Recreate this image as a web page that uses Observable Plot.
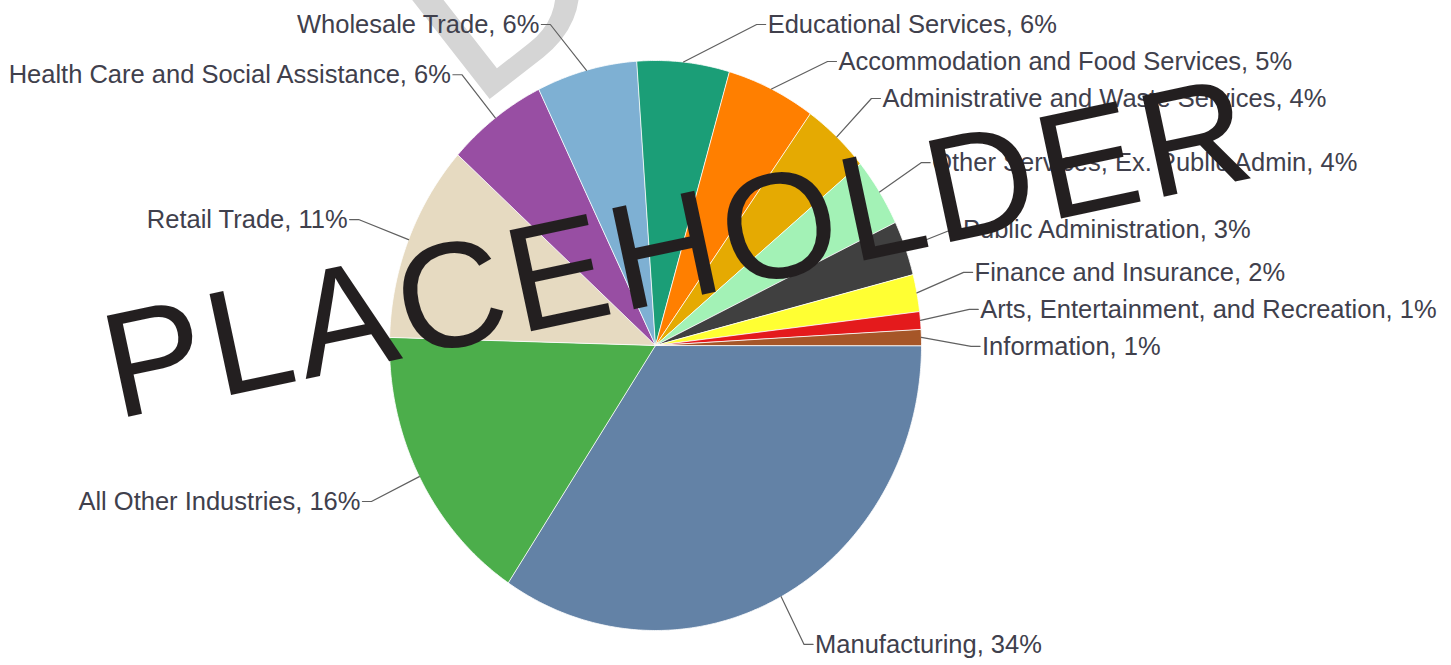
<!DOCTYPE html>
<html>
<head>
<meta charset="utf-8">
<script src="https://cdn.jsdelivr.net/npm/d3@7"></script>
<script src="https://cdn.jsdelivr.net/npm/@observablehq/plot@0.6"></script>
<style>
  html, body { margin: 0; padding: 0; background: #ffffff; }
  #chart svg { display: block; }
</style>
</head>
<body>
<div id="chart"></div>
<script>
// ---- data ----
const industries = [
  "Manufacturing",
  "All Other Industries",
  "Retail Trade",
  "Health Care and Social Assistance",
  "Wholesale Trade",
  "Educational Services",
  "Accommodation and Food Services",
  "Administrative and Waste Services",
  "Other Services, Ex. Public Admin",
  "Public Administration",
  "Finance and Insurance",
  "Arts, Entertainment, and Recreation",
  "Information"
];
const shares = [34.3, 16.1, 11.2, 6.1, 6.1, 5.6, 5.4, 4.1, 3.9, 3.1, 2.1, 1.0, 0.9];
const sliceColors = [
  "#6382a6", "#4cae4b", "#e6dac1", "#984ea3", "#7eb0d3", "#1b9e77",
  "#ff7f00", "#e5aa02", "#a3f2b6", "#404040", "#ffff33", "#e41a1c", "#a65628"
];
const watermarkText = "PLACEHOLDER";
const faintMark = "D";

// ---- layout ----
const W = 1451, H = 665;
const CX = 655, CY = 345;      // pie centre (px)
const RX = 266, RY = 285;      // pie radii (px) – picture is slightly stretched vertically
const LABEL_R = 1.19;          // label radius in pie-radius units
const PAD = 10;                // px between label circle and text
const LINE_H = 37;             // px between stacked labels
const TOP = 24, BOTTOM = 650;  // label centre limits

const total = d3.sum(shares);
const slices = [];
let acc = 0;
industries.forEach((name, i) => {
  const a0 = acc / total * 2 * Math.PI;
  acc += shares[i];
  const a1 = acc / total * 2 * Math.PI;
  slices.push({name, value: shares[i], color: sliceColors[i], a0, a1, mid: (a0 + a1) / 2,
               pct: Math.round(shares[i] / total * 100)});
});

// polygon points of each slice (unit circle, y pointing down)
const polyPts = [];
for (const s of slices) {
  polyPts.push({name: s.name, color: s.color, x: 0, y: 0});
  const n = Math.max(2, Math.ceil((s.a1 - s.a0) / (Math.PI / 360)));
  for (let k = 0; k <= n; k++) {
    const a = s.a0 + (s.a1 - s.a0) * k / n;
    polyPts.push({name: s.name, color: s.color, x: Math.cos(a), y: Math.sin(a)});
  }
}

// ---- label placement (Highcharts-like distribution) ----
function distribute(items) {
  items.sort((a, b) => a.target - b.target);
  let boxes = items.map(d => ({targets: [d.target], items: [d], size: LINE_H}));
  const minTop = TOP - LINE_H / 2, maxBottom = BOTTOM + LINE_H / 2;
  const place = () => boxes.forEach(b => {
    const t = (d3.min(b.targets) + d3.max(b.targets)) / 2;
    b.pos = Math.max(minTop, Math.min(maxBottom - b.size, t - b.size / 2));
  });
  place();
  let merged = true;
  while (merged) {
    merged = false;
    for (let i = 1; i < boxes.length; i++) {
      if (boxes[i - 1].pos + boxes[i - 1].size > boxes[i].pos + 0.01) {
        const a = boxes[i - 1], b = boxes[i];
        a.targets = a.targets.concat(b.targets);
        a.items = a.items.concat(b.items);
        a.size += b.size;
        boxes.splice(i, 1);
        merged = true;
        place();
        break;
      }
    }
  }
  boxes.forEach(b => b.items.forEach((d, j) => { d.py = b.pos + LINE_H * (j + 0.5); }));
}

const labels = slices.map(s => ({
  text: `${s.name}, ${s.pct}%`,
  mid: s.mid,
  right: Math.cos(s.mid) >= 0,
  target: CY + RY * LABEL_R * Math.sin(s.mid)
}));
distribute(labels.filter(d => d.right));
distribute(labels.filter(d => !d.right));

const connPts = [];
labels.forEach((d, i) => {
  const ny = (d.py - CY) / RY;
  const nx = Math.sqrt(Math.max(0, LABEL_R * LABEL_R - ny * ny));
  const sgn = d.right ? 1 : -1;
  const pxText = CX + sgn * (RX * nx + PAD + (d.right ? 0 : 4));
  d.x = (pxText - CX) / RX;
  d.y = ny;
  // connector: slice edge -> break point -> text
  connPts.push({k: i, x: Math.cos(d.mid), y: Math.sin(d.mid)});
  connPts.push({k: i, x: (pxText - sgn * 11 - CX) / RX, y: ny});
  connPts.push({k: i, x: (pxText - sgn * 2 - CX) / RX, y: ny});
});

const font = "'Liberation Sans', Arial, Helvetica, sans-serif";
const textColor = "#40404c";

const chart = Plot.plot({
  width: W,
  height: H,
  margin: 0,
  style: {background: "#ffffff", fontFamily: font, overflow: "visible"},
  x: {domain: [-CX / RX, (W - CX) / RX], range: [0, W], axis: null},
  y: {domain: [-CY / RY, (H - CY) / RY], range: [0, H], axis: null},
  color: {type: "identity"},
  marks: [
    // faint background watermark letter
    Plot.text([faintMark], {
      frameAnchor: "top-left", dx: 472, dy: 112, text: d => d,
      rotate: -38, fontSize: 265, fill: "#d5d5d5",
      textAnchor: "start", lineAnchor: "bottom", fontFamily: font
    }),
    // pie slices
    Plot.line(polyPts, {
      x: "x", y: "y", z: "name", fill: "color",
      stroke: "#ffffff", strokeWidth: 0.8, curve: "linear-closed"
    }),
    // connectors
    Plot.line(connPts, {x: "x", y: "y", z: "k", stroke: "#606060", strokeWidth: 1.2}),
    // labels
    Plot.text(labels.filter(d => d.right), {
      x: "x", y: "y", text: "text", textAnchor: "start", lineAnchor: "middle",
      fontSize: 25.5, fill: textColor, fontFamily: font
    }),
    Plot.text(labels.filter(d => !d.right), {
      x: "x", y: "y", text: "text", textAnchor: "end", lineAnchor: "middle",
      fontSize: 25.5, fill: textColor, fontFamily: font
    }),
    // foreground watermark
    Plot.text([watermarkText], {
      frameAnchor: "top-left", dx: 679, dy: 250, text: d => d,
      rotate: -12, fontSize: 150, fill: "#231f20",
      textAnchor: "middle", lineAnchor: "middle", fontFamily: font
    })
  ]
});

// a little letter spacing on the watermark, as in the reference
d3.select(chart).selectAll("text").filter(function () { return this.textContent === watermarkText; })
  .style("letter-spacing", "5px");

document.getElementById("chart").appendChild(chart);
</script>
</body>
</html>
